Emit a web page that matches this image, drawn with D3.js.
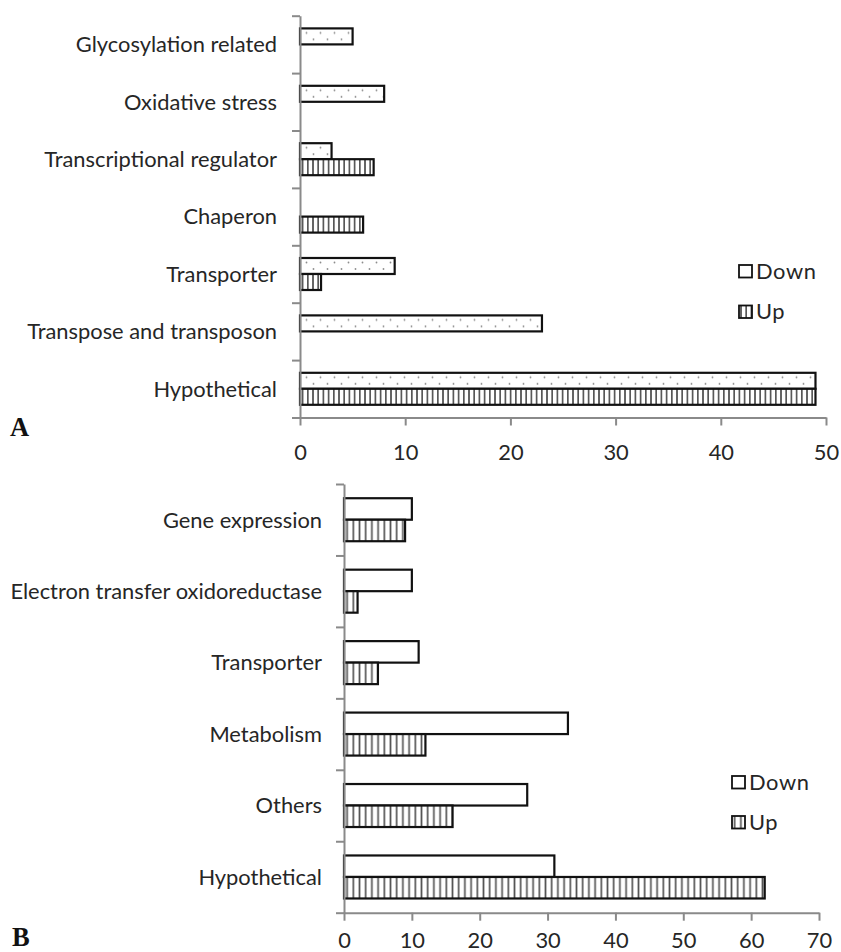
<!DOCTYPE html>
<html>
<head>
<meta charset="utf-8">
<script src="https://cdn.jsdelivr.net/npm/d3@7"></script>
<style>
  html, body { margin: 0; padding: 0; background: #ffffff; }
  svg { display: block; }
</style>
</head>
<body>
<div id="chart"></div>
<script>
// ---------------- data ----------------
const seriesNames = ["Down", "Up"];

const categoriesA = [
  "Glycosylation related",
  "Oxidative stress",
  "Transcriptional regulator",
  "Chaperon",
  "Transporter",
  "Transpose and transposon",
  "Hypothetical"
];
const downA = [5, 8, 3, 0, 9, 23, 49];
const upA   = [0, 0, 7, 6, 2, 0, 49];
const ticksA = [0, 10, 20, 30, 40, 50];

const categoriesB = [
  "Gene expression",
  "Electron transfer oxidoreductase",
  "Transporter",
  "Metabolism",
  "Others",
  "Hypothetical"
];
const downB = [10, 10, 11, 33, 27, 31];
const upB   = [9, 2, 5, 12, 16, 62];
const ticksB = [0, 10, 20, 30, 40, 50, 60, 70];

// ---------------- setup ----------------
const W = 841, H = 952;
const svg = d3.select("#chart").append("svg")
  .attr("width", W).attr("height", H)
  .attr("viewBox", `0 0 ${W} ${H}`);
svg.append("rect").attr("width", W).attr("height", H).attr("fill", "#fff");

const FONT = "Lato, 'Open Sans', sans-serif";
const TEXT_COLOR = "#262626";
const AXIS_COLOR = "#8a8a8a";

function fitFont(text, target) {
  const t = svg.append("text").attr("font-family", FONT).attr("font-size", 100).text(text);
  const w = t.node().getComputedTextLength();
  t.remove();
  return 100 * target / w;
}
const labelSize = fitFont("Transcriptional regulator", 233);

const defs = svg.append("defs");
// vertical stripes pattern
function stripePattern(id, period) {
  const p = defs.append("pattern").attr("id", id)
    .attr("patternUnits", "userSpaceOnUse")
    .attr("width", period).attr("height", 8);
  p.append("rect").attr("width", period).attr("height", 8).attr("fill", "#fff");
  p.append("line").attr("x1", period / 2).attr("x2", period / 2)
    .attr("y1", 0).attr("y2", 8)
    .attr("stroke", "#555").attr("stroke-width", 1.7);
}
stripePattern("stripesA", 5.2);
stripePattern("stripesB", 6.2);
// dotted pattern (staggered)
(function () {
  const p = defs.append("pattern").attr("id", "dots")
    .attr("patternUnits", "userSpaceOnUse")
    .attr("width", 14).attr("height", 16);
  p.append("rect").attr("width", 14).attr("height", 16).attr("fill", "#fff");
  [[6.5, 4.5], [13.5, 11], [-0.5, 11]].forEach(([cx, cy]) =>
    p.append("circle").attr("cx", cx).attr("cy", cy).attr("r", 0.9).attr("fill", "#8c8c8c"));
})();

// ---------------- panel drawer ----------------
function drawPanel(cfg) {
  const { cats, down, up, ticks, x0, x1, yTop, yBot, pairFrac, fills, legendFills,
          legend, tickLabelOffset, labelGap, letter } = cfg;

  const x = d3.scaleLinear().domain([ticks[0], ticks[ticks.length - 1]]).range([x0, x1]);
  const inner = 1 - pairFrac;
  const y = d3.scaleBand().domain(cats).range([yTop, yBot])
    .paddingInner(inner).paddingOuter(inner / 2);
  const ySub = d3.scaleBand().domain(seriesNames).range([0, y.bandwidth()]);

  const g = svg.append("g");

  // bars
  const rows = [];
  cats.forEach((c, i) => {
    rows.push({ cat: c, s: "Down", v: down[i] });
    rows.push({ cat: c, s: "Up", v: up[i] });
  });
  const bar = g.selectAll("g.bar").data(rows.filter(d => d.v > 0)).join("g")
    .attr("class", "bar")
    .attr("transform", d => `translate(${x(0)},${y(d.cat) + ySub(d.s)})`);
  bar.append("rect")
    .attr("x", 0).attr("y", 0)
    .attr("width", d => x(d.v) - x(0))
    .attr("height", ySub.bandwidth())
    .attr("fill", d => fills[d.s])
    .attr("stroke", "#111").attr("stroke-width", 2.2);

  // y axis with ticks at category boundaries
  const yLin = d3.scaleLinear().domain([0, cats.length]).range([yTop, yBot]);
  const yAx = g.append("g").attr("transform", `translate(${x0},0)`)
    .call(d3.axisLeft(yLin).tickValues(d3.range(0, cats.length + 1)).tickFormat("").tickSizeInner(8).tickSizeOuter(0));
  yAx.selectAll("path, line").attr("stroke", AXIS_COLOR).attr("stroke-width", 2);

  // x axis
  const xAx = g.append("g").attr("transform", `translate(0,${yBot})`)
    .call(d3.axisBottom(x).tickValues(ticks).tickSizeInner(8).tickSizeOuter(0).tickPadding(tickLabelOffset));
  xAx.selectAll("path, line").attr("stroke", AXIS_COLOR).attr("stroke-width", 2);
  xAx.selectAll("text").attr("font-family", FONT).attr("font-size", labelSize)
    .attr("fill", TEXT_COLOR).attr("dy", "0.71em");

  // category labels
  g.selectAll("text.cat").data(cats).join("text")
    .attr("class", "cat")
    .attr("x", x0 - labelGap)
    .attr("y", d => y(d) + y.bandwidth() / 2)
    .attr("dy", "0.36em")
    .attr("text-anchor", "end")
    .attr("font-family", FONT).attr("font-size", labelSize)
    .attr("fill", TEXT_COLOR)
    .text(d => d);

  // legend
  const lg = g.append("g");
  seriesNames.forEach((s, i) => {
    const ly = legend.y + i * legend.dy;
    lg.append("rect").attr("x", legend.x).attr("y", ly - 6)
      .attr("width", 13).attr("height", 12.5)
      .attr("fill", legendFills[s]).attr("stroke", "#111").attr("stroke-width", 1.8);
    lg.append("text").attr("x", legend.x + 17).attr("y", ly).attr("dy", "0.36em")
      .attr("font-family", FONT).attr("font-size", labelSize)
      .attr("fill", TEXT_COLOR).attr("letter-spacing", 0.6).text(s);
  });

  // panel letter
  svg.append("text").attr("x", letter.x).attr("y", letter.y)
    .attr("font-family", "'Liberation Serif', 'Times New Roman', serif")
    .attr("font-weight", "bold").attr("font-size", 26.5)
    .attr("fill", "#111").text(letter.t);
}

drawPanel({
  cats: categoriesA, down: downA, up: upA, ticks: ticksA,
  x0: 300, x1: 826, yTop: 15.7, yBot: 417.5, pairFrac: 32 / 57.4,
  fills: { Down: "url(#dots)", Up: "url(#stripesA)" },
  legendFills: { Down: "#fff", Up: "url(#stripesA)" },
  legend: { x: 739, y: 271, dy: 40.5 },
  tickLabelOffset: 19, labelGap: 23,
  letter: { t: "A", x: 10, y: 436 }
});

drawPanel({
  cats: categoriesB, down: downB, up: upB, ticks: ticksB,
  x0: 344, x1: 819, yTop: 484, yBot: 912.7, pairFrac: 43 / 71.45,
  fills: { Down: "#fff", Up: "url(#stripesB)" },
  legendFills: { Down: "#fff", Up: "url(#stripesB)" },
  legend: { x: 732, y: 782, dy: 40 },
  tickLabelOffset: 12, labelGap: 22,
  letter: { t: "B", x: 12, y: 946 }
});
</script>
</body>
</html>
